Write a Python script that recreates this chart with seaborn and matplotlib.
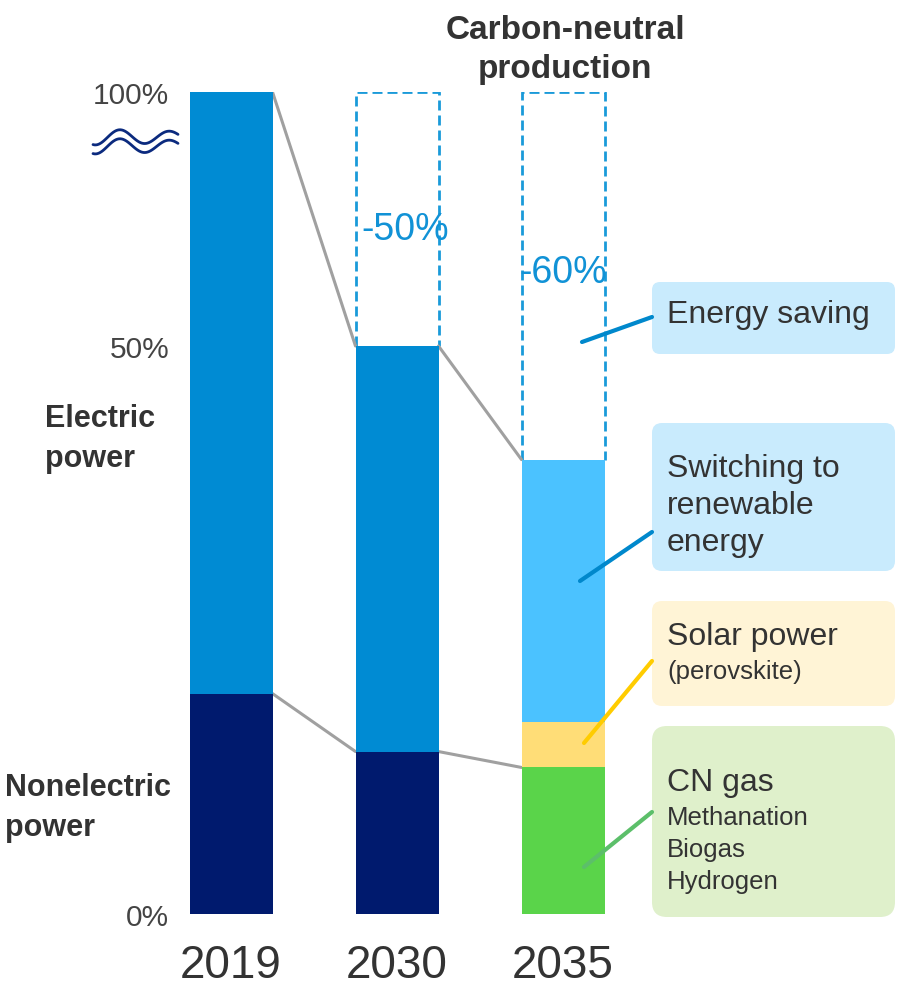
import numpy as np
import pandas as pd
import matplotlib.pyplot as plt
import seaborn as sns
from matplotlib.patches import FancyBboxPatch

# data (share of 2019 CO2 emissions, %)
years = ["2019", "2030", "2035"]
nonelectric = [19.4, 14.3, 0.0]
cn_gas = [0.0, 0.0, 12.9]
solar = [0.0, 0.0, 4.0]
electric = [80.6, 35.7, 0.0]
renewable = [0.0, 0.0, 23.1]

segments = ["nonelectric", "cn_gas", "solar", "electric", "renewable"]
seg_colors = {"nonelectric": "#001A6E", "cn_gas": "#5AD44A", "solar": "#FFDD77",
              "electric": "#008BD3", "renewable": "#4BC2FF"}

df = pd.DataFrame({"year": years, "nonelectric": nonelectric, "cn_gas": cn_gas,
                   "solar": solar, "electric": electric, "renewable": renewable})
cum = df[segments].cumsum(axis=1)
total = cum["renewable"].values
base = cum["cn_gas"].values

# broken y axis: upper half is squeezed
R = 254.0 / 568.0


def fwd(v):
    v = np.asarray(v, dtype=float)
    return np.where(v <= 50, v, 50 + (v - 50) * R)


def inv(u):
    u = np.asarray(u, dtype=float)
    return np.where(u <= 50, u, 50 + (u - 50) / R)


sns.set_theme(style="white")
plt.rcParams["font.family"] = ["Liberation Sans", "DejaVu Sans"]

W, H = 897, 987
fig = plt.figure(figsize=(W / 100, H / 100), dpi=100)
ax = fig.add_axes([175 / W, (H - 915) / H, (W - 175) / W, 822 / H])
ax.set_yscale("function", functions=(fwd, inv))

# stacked bars drawn as overlapping cumulative layers
for seg in reversed(segments):
    sns.barplot(x=df["year"], y=cum[seg].values, color=seg_colors[seg], width=0.5,
                linewidth=0, saturation=1, ax=ax, zorder=2)

# dashed outline for the reduction (label placed part way down the gap)
pos = np.arange(len(years))
label_frac = {1: 0.54, 2: 0.49}
for i in pos:
    if total[i] < 100:
        ax.plot([i - 0.25, i - 0.25, i + 0.25, i + 0.25], [total[i], 100, 100, total[i]],
                color="#1A9AD9", lw=2, ls=(0, (3.6, 1.8)), zorder=1, solid_capstyle="butt")
        f = label_frac.get(i, 0.5)
        ly = inv(fwd(100) - f * (fwd(100) - fwd(total[i])))
        ax.text(i + (0.05 if i == 1 else 0.0), ly, f"-{100 - total[i]:.0f}%", ha="center",
                va="center", fontsize=27, color="#1192D6", zorder=3)

# grey connectors between bars
for i in range(len(years) - 1):
    ax.plot([i + 0.25, i + 0.75], [total[i], total[i + 1]], color="#A0A0A0", lw=2.2, zorder=1)
    ax.plot([i + 0.25, i + 0.75], [base[i], base[i + 1]], color="#A0A0A0", lw=2.2, zorder=1)

ax.set_xlim((175 - 231) / 166, (W - 231) / 166)
ax.set_ylim(0, 100)
ax.set_yticks([0, 50, 100], labels=["0%", "50%", "100%"])
ax.tick_params(axis="y", length=0, pad=4, labelsize=21.5, labelcolor="#444444")
ax.tick_params(axis="x", length=0, pad=21, labelsize=33, labelcolor="#333333")
ax.set_xlabel("")
ax.set_ylabel("")
sns.despine(ax=ax, left=True, bottom=True)

# overlay in pixel units for annotations
ov = fig.add_axes([0, 0, 1, 1])
ov.set_xlim(0, W)
ov.set_ylim(H, 0)
ov.axis("off")
ov.patch.set_alpha(0)

# axis break symbol
t = np.linspace(0, 1, 60)
wave = 138 - 8 * np.cos(2 * np.pi * (t - 0.32) / 0.58) * (1 - 0.3 * t)
for off in (0, 9):
    ov.plot(93 + 85 * t, wave + off, color="#0B2A7E", lw=2)

txt = "#333333"
ov.text(45, 439, "Electric\npower", fontsize=22, fontweight="bold", color=txt,
        ha="left", va="center", linespacing=1.4)
ov.text(5, 808, "Nonelectric\npower", fontsize=22, fontweight="bold", color=txt,
        ha="left", va="center", linespacing=1.4)
ov.text(565, 50, "Carbon-neutral\nproduction", fontsize=24, fontweight="bold", color=txt,
        ha="center", va="center", linespacing=1.35)

# right-hand boxes
boxes = [(283, 355, "#C9EBFD", 8), (424, 572, "#C9EBFD", 10),
         (602, 707, "#FFF4D6", 10), (727, 918, "#DFF0CB", 15)]
for top, bot, fc, rr in boxes:
    ov.add_patch(FancyBboxPatch((652 + rr, top + rr), 243 - 2 * rr, bot - top - 2 * rr,
                                boxstyle=f"round,pad={rr}", fc=fc, ec="none"))

ov.text(667, 315, "Energy saving", fontsize=23, color=txt, va="center")
ov.text(667, 506, "Switching to\nrenewable\nenergy", fontsize=23, color=txt, va="center",
        linespacing=1.3)
ov.text(667, 637, "Solar power", fontsize=23, color=txt, va="center")
ov.text(667, 672, "(perovskite)", fontsize=18.5, color=txt, va="center")
ov.text(667, 783, "CN gas", fontsize=23, color=txt, va="center")
for y, s in zip([818, 850, 882], ["Methanation", "Biogas", "Hydrogen"]):
    ov.text(667, y, s, fontsize=18.5, color=txt, va="center")

# leader lines
ov.plot([582, 652], [343, 318], color="#0088CC", lw=3)
ov.plot([580, 652], [582, 533], color="#0088CC", lw=3)
ov.plot([584, 652], [744, 662], color="#FFCC00", lw=3)
ov.plot([584, 652], [868, 813], color="#5CBF6A", lw=3)

fig.savefig("out.png", dpi=100)
